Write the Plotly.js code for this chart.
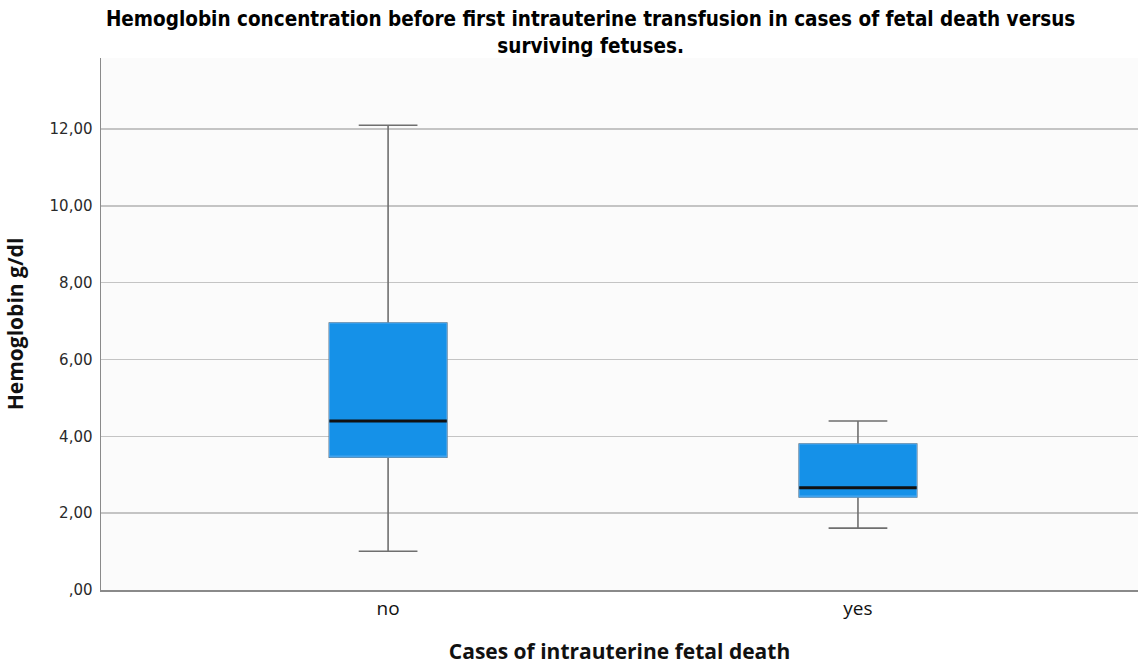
<!DOCTYPE html>
<html>
<head>
<meta charset="utf-8">
<script src="https://cdn.plot.ly/plotly-3.0.1.min.js"></script>
<style>html,body{margin:0;padding:0;background:#fff;}#chart{width:1138px;height:665px;}</style>
</head>
<body>
<div id="chart"></div>
<script>
const categories = ['no', 'yes'];
const lowerWhisker = [1.01, 1.61];
const q1Values = [3.46, 2.42];
const medianValues = [4.40, 2.66];
const q3Values = [6.95, 3.80];
const upperWhisker = [12.10, 4.40];
const yTickVals = [0, 2, 4, 6, 8, 10, 12];
const yTickText = [',00', '2,00', '4,00', '6,00', '8,00', '10,00', '12,00'];

const positions = categories.map((c, i) => i);
const boxWidth = 0.25;
const boxFill = '#1591e8';
const traces = [];

// whiskers + caps (grey)
traces.push({
  type: 'box', x: positions, q1: q1Values, median: medianValues, q3: q3Values,
  lowerfence: lowerWhisker, upperfence: upperWhisker,
  width: boxWidth, whiskerwidth: 0.5,
  line: {color: '#6f6f6f', width: 1.6},
  fillcolor: boxFill, hoverinfo: 'skip', showlegend: false
});
// IQR box overlay (blue outline)
traces.push({
  type: 'box', x: positions, q1: q1Values, median: q1Values, q3: q3Values,
  lowerfence: q1Values, upperfence: q3Values,
  width: boxWidth, whiskerwidth: 0,
  line: {color: '#4fa9ef', width: 1},
  fillcolor: boxFill, hoverinfo: 'skip', showlegend: false
});
// median lines (black)
const mx = [], my = [];
positions.forEach((p, i) => {
  mx.push(p - boxWidth / 2, p + boxWidth / 2, null);
  my.push(medianValues[i], medianValues[i], null);
});
traces.push({
  type: 'scatter', mode: 'lines', x: mx, y: my,
  line: {color: '#111111', width: 3}, hoverinfo: 'skip', showlegend: false
});

const layout = {
  width: 1138, height: 665,
  margin: {l: 101, r: 0, t: 58, b: 75},
  paper_bgcolor: '#ffffff', plot_bgcolor: '#fbfbfb',
  boxmode: 'overlay',
  showlegend: false,
  title: {
    text: 'Hemoglobin concentration before first intrauterine transfusion in cases of fetal death versus<br>surviving fetuses.',
    font: {family: 'DejaVu Sans Condensed, Liberation Sans, Arial, sans-serif', size: 20.5, color: '#000', weight: 'bold'},
    xref: 'container', x: 0.519, xanchor: 'center',
    yref: 'container', y: 0.9605, yanchor: 'middle'
  },
  xaxis: {
    range: [-0.611, 1.596],
    tickvals: positions, ticktext: categories,
    tickfont: {family: 'Open Sans, sans-serif', size: 19, color: '#111'},
    showgrid: false, zeroline: false,
    showline: true, linecolor: '#8a8a8a', linewidth: 2,
    ticks: '', ticklen: 0,
    title: {text: 'Cases of intrauterine fetal death', standoff: 27,
      font: {family: 'Open Sans, sans-serif', size: 21, color: '#111', weight: 'bold'}},
    fixedrange: true
  },
  yaxis: {
    range: [0, 13.85],
    tickvals: yTickVals, ticktext: yTickText,
    tickfont: {family: 'DejaVu Sans, sans-serif', size: 15, color: '#2a2a2a'},
    showgrid: true, gridcolor: '#c4c4c4', gridwidth: 1.5,
    zeroline: false,
    showline: true, linecolor: '#8a8a8a', linewidth: 1.5,
    ticks: 'outside', ticklen: 4, tickcolor: 'rgba(0,0,0,0)',
    title: {text: 'Hemoglobin g/dl', standoff: 20,
      font: {family: 'Open Sans, sans-serif', size: 21, color: '#111', weight: 'bold'}},
    fixedrange: true
  }
};

Plotly.newPlot('chart', traces, layout, {displayModeBar: false, staticPlot: true});
</script>
</body>
</html>
